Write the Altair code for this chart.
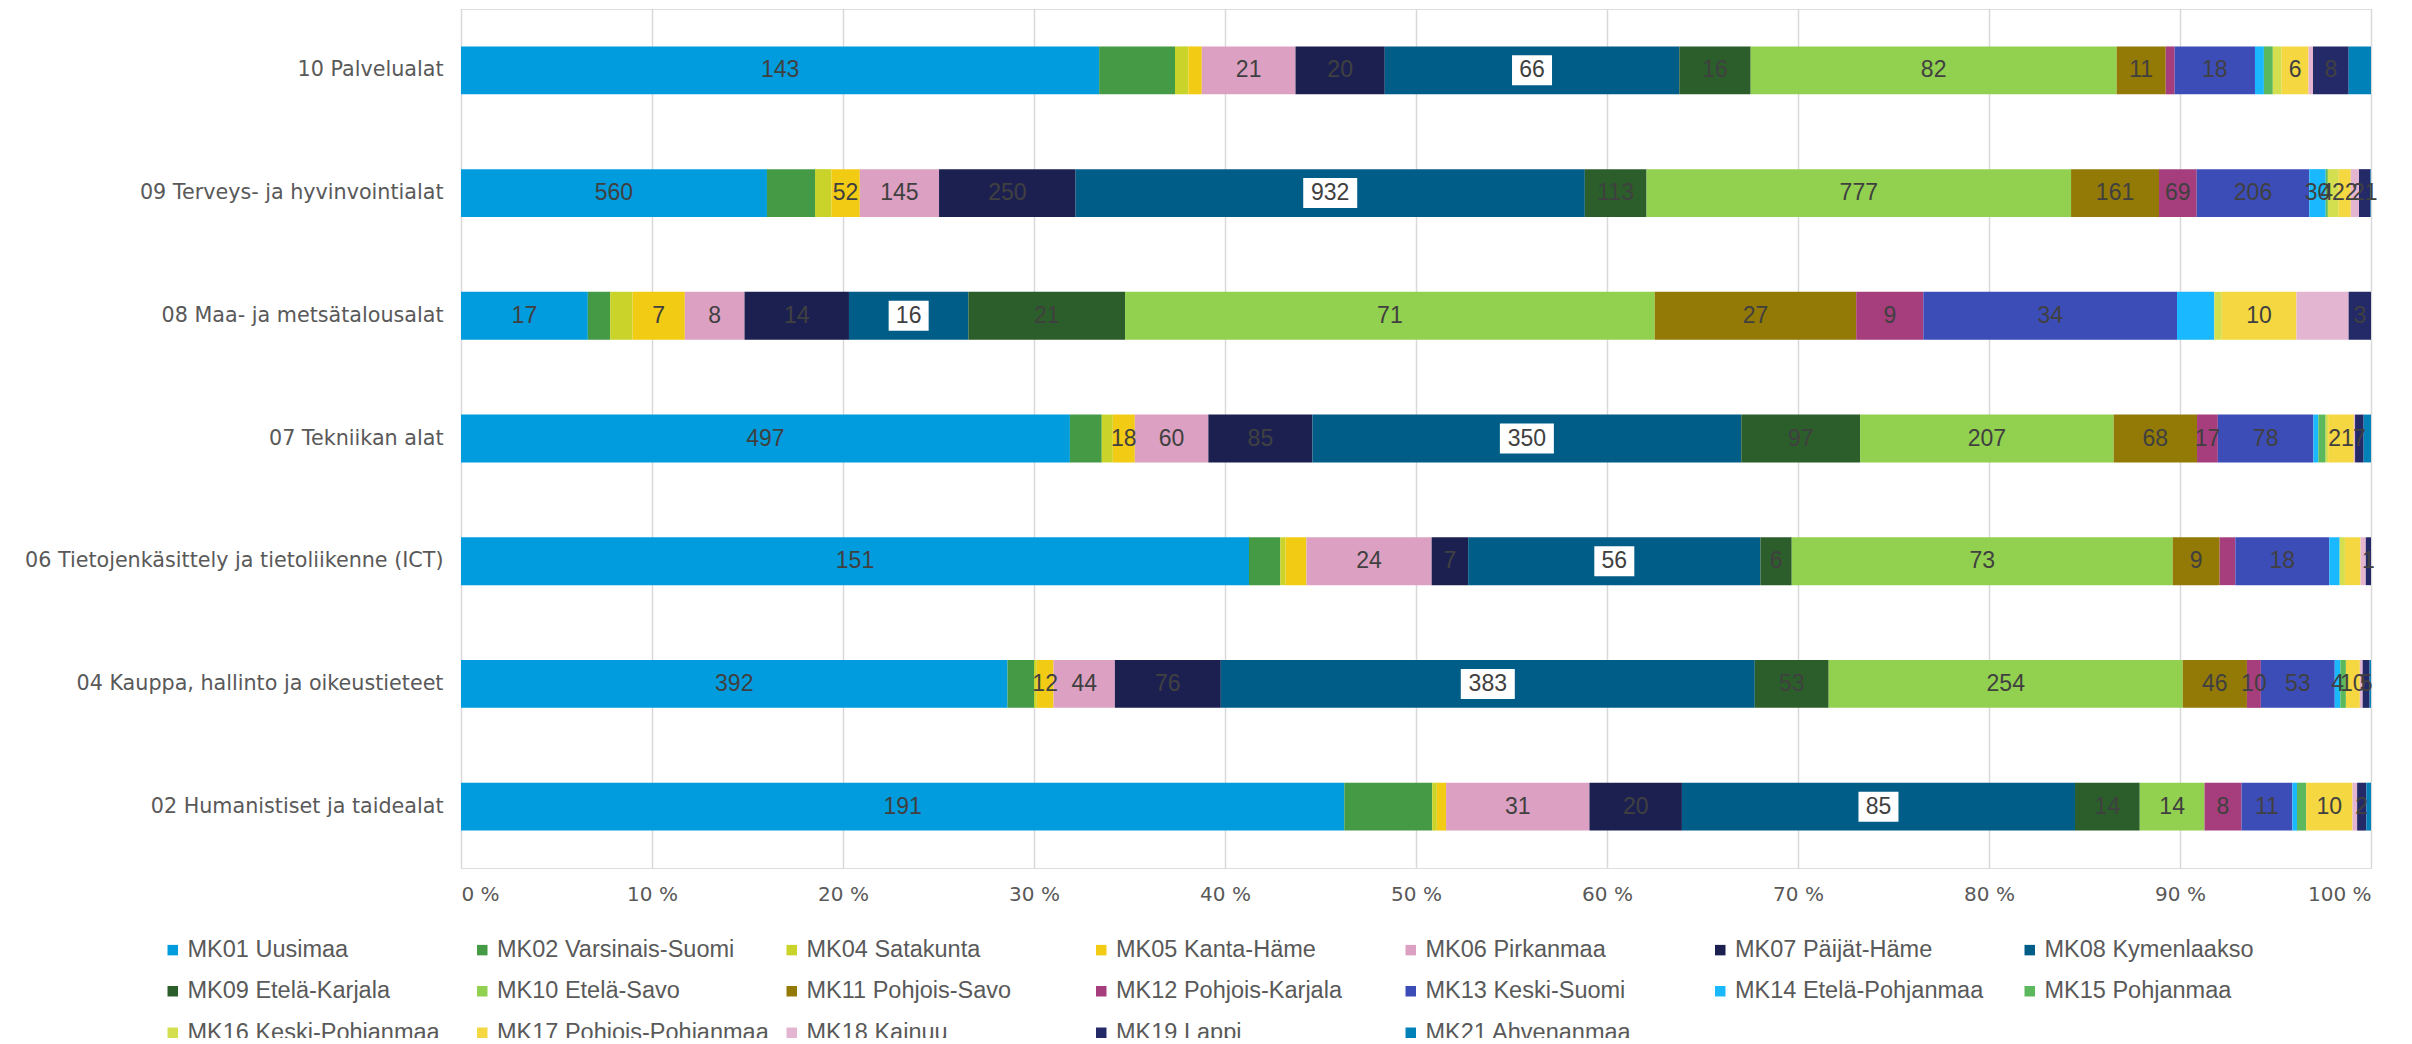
import altair as alt
import pandas as pd

categories = [
    "10 Palvelualat",
    "09 Terveys- ja hyvinvointialat",
    "08 Maa- ja metsätalousalat",
    "07 Tekniikan alat",
    "06 Tietojenkäsittely ja tietoliikenne (ICT)",
    "04 Kauppa, hallinto ja oikeustieteet",
    "02 Humanistiset ja taidealat",
]

regions = [
    "MK01 Uusimaa", "MK02 Varsinais-Suomi", "MK04 Satakunta", "MK05 Kanta-Häme",
    "MK06 Pirkanmaa", "MK07 Päijät-Häme", "MK08 Kymenlaakso", "MK09 Etelä-Karjala",
    "MK10 Etelä-Savo", "MK11 Pohjois-Savo", "MK12 Pohjois-Karjala", "MK13 Keski-Suomi",
    "MK14 Etelä-Pohjanmaa", "MK15 Pohjanmaa", "MK16 Keski-Pohjanmaa",
    "MK17 Pohjois-Pohjanmaa", "MK18 Kainuu", "MK19 Lappi", "MK21 Ahvenanmaa",
]

colors = [
    "#009cde", "#459a45", "#c9d32a", "#f2cc14", "#dca0c2", "#1c2051", "#005d87",
    "#2b5e2a", "#92d050", "#937a06", "#a63d7c", "#3d4db8", "#1ab9ff", "#5cb85c",
    "#d4df50", "#f5d742", "#e3b5d0", "#242a68", "#0081b8",
]

# values per field of study, in the order of `regions`
v_palvelu = [143, 17, 3, 3, 21, 20, 66, 16, 82, 11, 2, 18, 2, 2, 2, 6, 1, 8, 5]
v_terveys = [560, 88, 30, 52, 145, 250, 932, 113, 777, 161, 69, 206, 30, 4, 20, 22, 15, 21, 1]
v_maa = [17, 3, 3, 7, 8, 14, 16, 21, 71, 27, 9, 34, 5, 0, 1, 10, 7, 3, 0]
v_tekniikka = [497, 26, 9, 18, 60, 85, 350, 97, 207, 68, 17, 78, 4, 6, 2, 21, 1, 7, 6]
v_ict = [151, 6, 1, 4, 24, 7, 56, 6, 73, 9, 3, 18, 2, 0, 1, 3, 1, 1, 0]
v_kauppa = [392, 19, 2, 12, 44, 76, 383, 53, 254, 46, 10, 53, 4, 4, 0, 10, 2, 5, 1]
v_human = [191, 19, 1, 2, 31, 20, 85, 14, 14, 0, 8, 11, 1, 2, 0, 10, 1, 2, 1]

# which segments carry a data label (1 = shown)
s_palvelu = [1, 0, 0, 0, 1, 1, 1, 1, 1, 1, 0, 1, 0, 0, 0, 1, 0, 1, 0]
s_terveys = [1, 0, 0, 1, 1, 1, 1, 1, 1, 1, 1, 1, 1, 1, 0, 1, 0, 1, 0]
s_maa = [1, 0, 0, 1, 1, 1, 1, 1, 1, 1, 1, 1, 0, 0, 0, 1, 0, 1, 0]
s_tekniikka = [1, 0, 0, 1, 1, 1, 1, 1, 1, 1, 1, 1, 0, 0, 0, 1, 0, 1, 0]
s_ict = [1, 0, 0, 0, 1, 1, 1, 1, 1, 1, 0, 1, 0, 0, 0, 0, 0, 1, 0]
s_kauppa = [1, 0, 0, 1, 1, 1, 1, 1, 1, 1, 1, 1, 1, 0, 0, 1, 0, 1, 0]
s_human = [1, 0, 0, 0, 1, 1, 1, 1, 1, 0, 1, 1, 0, 0, 0, 1, 0, 1, 0]

series = [v_palvelu, v_terveys, v_maa, v_tekniikka, v_ict, v_kauppa, v_human]
shown = [s_palvelu, s_terveys, s_maa, s_tekniikka, s_ict, s_kauppa, s_human]

rows = []
for cat, vals, shw in zip(categories, series, shown):
    for ri, (reg, v, s) in enumerate(zip(regions, vals, shw)):
        rows.append({"cat": cat, "region": reg, "ri": ri, "value": v, "show": s})
df = pd.DataFrame(rows)

base = alt.Chart(df).transform_joinaggregate(
    total="sum(value)", groupby=["cat"]
).transform_window(
    cum="sum(value)", groupby=["cat"], sort=[alt.SortField("ri")], frame=[None, 0]
).transform_calculate(
    x0="(datum.cum - datum.value) / datum.total",
    x1="datum.cum / datum.total",
    xm="(datum.cum - datum.value / 2) / datum.total",
    lab="'' + datum.value",
)

y_enc = alt.Y(
    "cat:N",
    sort=categories,
    scale=alt.Scale(paddingInner=0.61, paddingOuter=0.305),
    axis=alt.Axis(
        title=None, ticks=False, domain=False, labelFont="DejaVu Sans",
        labelFontSize=20.7, labelColor="#595959", labelPadding=18, labelLimit=700,
    ),
)

x_scale = alt.Scale(domain=[0, 1], nice=False)

bars = base.mark_bar(stroke=None).encode(
    x=alt.X(
        "x0:Q", scale=x_scale,
        axis=alt.Axis(
            title=None, values=[i / 10 for i in range(11)],
            labelExpr="round(datum.value * 100) + ' %'",
            grid=True, gridColor="#d9d9d9", gridWidth=1.5,
            ticks=False, domain=False, labelFont="DejaVu Sans", labelFontSize=20,
            labelColor="#595959", labelPadding=16,
        ),
    ),
    x2="x1:Q",
    y=y_enc,
    color=alt.Color(
        "region:N",
        scale=alt.Scale(domain=regions, range=colors),
        sort=regions,
        legend=alt.Legend(
            title=None, orient="none", legendX=-300, legendY=929,
            direction="horizontal", columns=7, gridAlign="all",
            symbolType="square", symbolSize=110, symbolStrokeWidth=0,
            labelFont="Liberation Sans", labelFontSize=23.5, labelColor="#595959",
            labelLimit=400, columnPadding=10.5, rowPadding=16.5, padding=0,
            labelOffset=3,
        ),
    ),
    order=alt.Order("ri:Q"),
)

box_filter = "datum.region == 'MK08 Kymenlaakso'"
box3 = base.transform_filter(box_filter + " && datum.value >= 100").mark_tick(
    color="white", thickness=54, opacity=1
).encode(x=alt.X("xm:Q", scale=x_scale), y=y_enc, size=alt.value(30))
box2 = base.transform_filter(box_filter + " && datum.value < 100").mark_tick(
    color="white", thickness=40, opacity=1
).encode(x=alt.X("xm:Q", scale=x_scale), y=y_enc, size=alt.value(30))

labels = base.transform_filter("datum.show == 1").mark_text(
    font="Liberation Sans", fontSize=23, color="#404040", baseline="middle", align="center"
).encode(x=alt.X("xm:Q", scale=x_scale), y=y_enc, text="lab:N")

chart = alt.layer(bars, box3, box2, labels).properties(
    width=1910, height=859,
    autosize=alt.AutoSizeParams(type="none"),
    padding={"left": 453, "top": 1, "right": 30, "bottom": 170},
).configure_view(stroke=None).configure(background="white")

chart.save("out.html", embed_options={"renderer": "svg", "actions": False})
